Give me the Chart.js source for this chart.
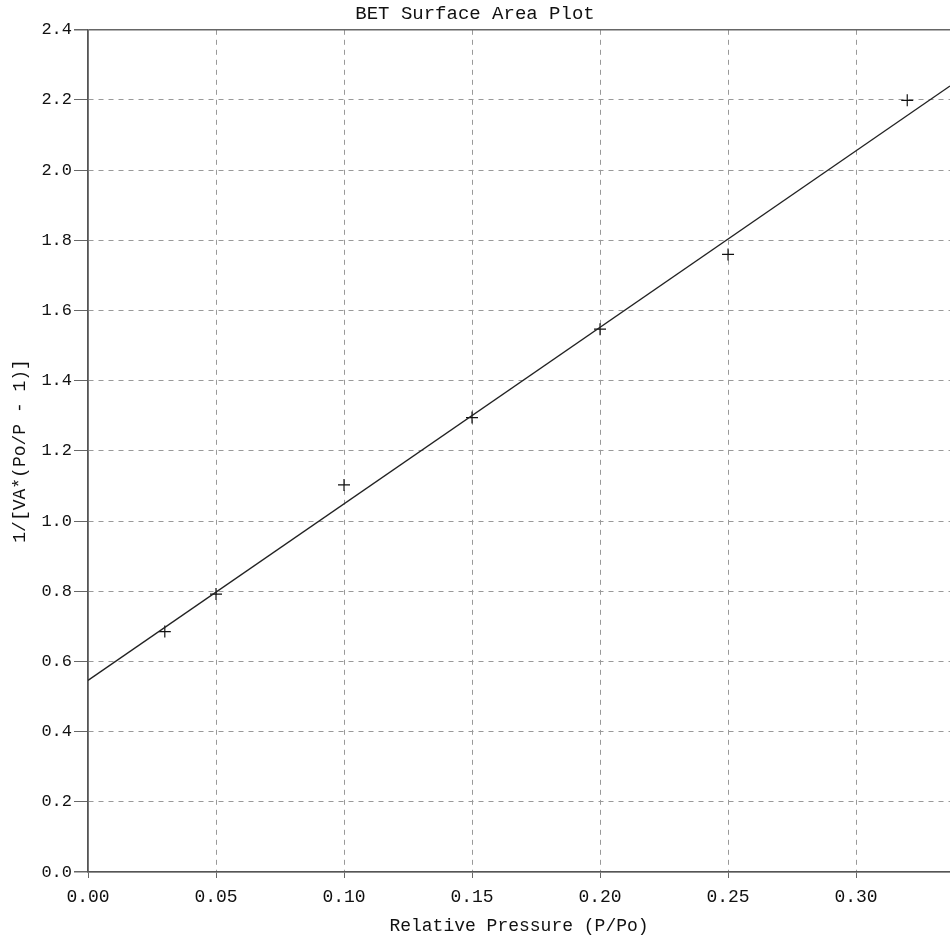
<!DOCTYPE html>
<html>
<head>
<meta charset="utf-8">
<script src="https://cdn.jsdelivr.net/npm/chart.js@4/dist/chart.umd.min.js"></script>
<style>
  html, body { margin: 0; padding: 0; background: #fff; }
  #wrap { width: 950px; height: 937px; position: relative; }
</style>
</head>
<body>
<div id="wrap"><canvas id="betPlot" width="950" height="937"></canvas></div>
<script>
// measured points (P/Po vs 1/[VA*(Po/P - 1)])
var pressure = [0.03, 0.05, 0.10, 0.15, 0.20, 0.25, 0.32];
var betValue = [0.685, 0.792, 1.103, 1.295, 1.547, 1.760, 2.199];

// fitted line ends
var fitX = [0, 0.3367];
var fitY = [0.546, 2.240];

// axis ticks
var xTicks = [0, 0.05, 0.10, 0.15, 0.20, 0.25, 0.30];
var yTicks = [0, 0.2, 0.4, 0.6, 0.8, 1.0, 1.2, 1.4, 1.6, 1.8, 2.0, 2.2, 2.4];

var mono = '"Liberation Mono", "DejaVu Sans Mono", monospace';

var points = [];
for (var i = 0; i < pressure.length; i++) {
    points.push({x: pressure[i], y: betValue[i]});
}
var fitLine = [];
for (var j = 0; j < fitX.length; j++) {
    fitLine.push({x: fitX[j], y: fitY[j]});
}

function solidAtEdge(c, lo, hi) {
    if (c.tick && (c.tick.value === lo || c.tick.value === hi)) return [];
    return [5, 5];
}

var ctx = document.getElementById("betPlot");
var betChart = new Chart(ctx, {
    type: 'scatter',
    data: {
        datasets: [{
            data: fitLine,
            showLine: true,
            pointRadius: 0,
            borderColor: "#222",
            borderWidth: 1.3,
            fill: false
        }, {
            data: points,
            showLine: false,
            pointStyle: 'cross',
            pointRadius: 6,
            borderColor: "#111",
            borderWidth: 1.2
        }]
    },
    options: {
        responsive: false,
        animation: false,
        layout: {padding: 0, autoPadding: false},
        plugins: {
            legend: {display: false},
            tooltip: {enabled: false},
            title: {
                display: true,
                text: 'BET Surface Area Plot',
                color: '#111',
                font: {family: mono, size: 19, weight: 'normal'},
                padding: {top: 3, bottom: 4}
            }
        },
        scales: {
            x: {
                type: 'linear',
                min: 0,
                max: 0.3367,
                afterBuildTicks: function (scale) {
                    scale.ticks = xTicks.map(function (v) { return {value: v}; });
                },
                afterFit: function (scale) {
                    scale.height = 65;
                    scale.paddingRight = 0;
                },
                ticks: {
                    color: '#111',
                    padding: 8,
                    font: {family: mono, size: 18},
                    callback: function (v) { return Number(v).toFixed(2); }
                },
                grid: {
                    color: '#999',
                    lineWidth: 1,
                    tickLength: 6,
                    tickColor: '#666',
                    tickBorderDash: []
                },
                border: {
                    display: true,
                    color: '#555',
                    width: 1.5,
                    dash: function (c) { return solidAtEdge(c, 0, -1); }
                },
                title: {
                    display: true,
                    text: 'Relative Pressure (P/Po)',
                    color: '#111',
                    font: {family: mono, size: 18},
                    padding: {top: 13, bottom: 0}
                }
            },
            y: {
                type: 'linear',
                min: 0,
                max: 2.4,
                afterBuildTicks: function (scale) {
                    scale.ticks = yTicks.map(function (v) { return {value: v}; });
                },
                afterFit: function (scale) { scale.width = 88; },
                ticks: {
                    color: '#111',
                    padding: 2,
                    font: {family: mono, size: 17},
                    callback: function (v) { return Number(v).toFixed(1); }
                },
                grid: {
                    color: function (c) {
                        return (c.tick && c.tick.value === 2.4) ? '#666' : '#999';
                    },
                    lineWidth: function (c) {
                        return (c.tick && (c.tick.value === 2.4 || c.tick.value === 0)) ? 1.5 : 1;
                    },
                    tickLength: 14,
                    tickColor: '#666',
                    tickBorderDash: []
                },
                border: {
                    display: true,
                    color: '#555',
                    width: 1.5,
                    dash: function (c) { return solidAtEdge(c, 0, 2.4); }
                },
                title: {
                    display: true,
                    text: '1/[VA*(Po/P - 1)]',
                    color: '#111',
                    font: {family: mono, size: 18},
                    padding: {top: 9, bottom: 0}
                }
            }
        }
    }
});
</script>
</body>
</html>
